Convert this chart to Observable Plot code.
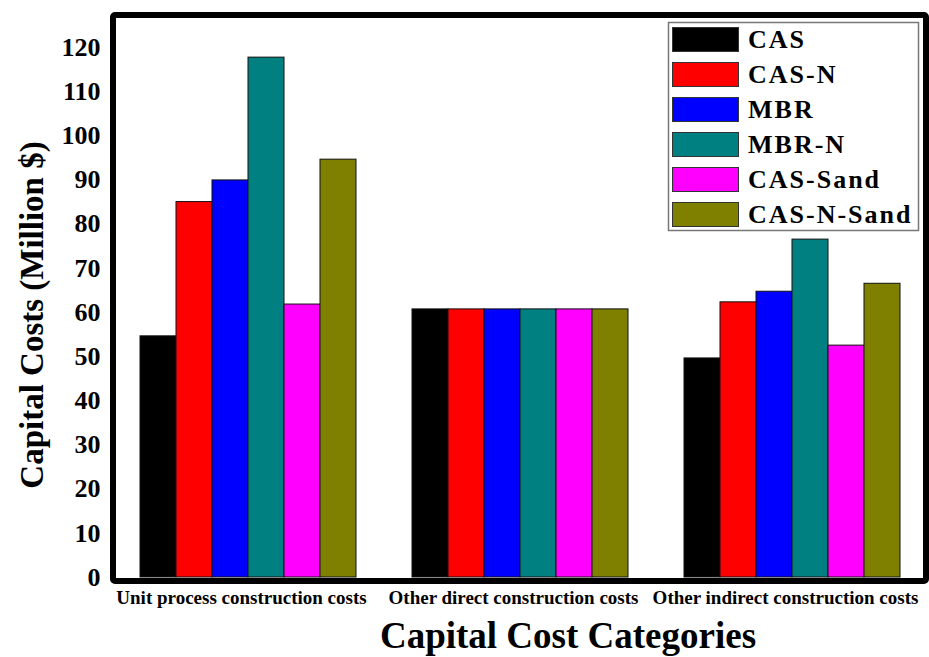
<!DOCTYPE html>
<html>
<head>
<meta charset="utf-8">
<script src="https://cdn.jsdelivr.net/npm/d3@7"></script>
<script src="https://cdn.jsdelivr.net/npm/@observablehq/plot@0.6"></script>
<style>
  html, body { margin: 0; padding: 0; background: #fff; }
  #chart svg { display: block; }
</style>
</head>
<body>
<div id="chart"></div>
<script>
// ---- data ----
const categories = ["Unit process construction costs", "Other direct construction costs", "Other indirect construction costs"];
const series = ["CAS", "CAS-N", "MBR", "MBR-N", "CAS-Sand", "CAS-N-Sand"];
const colors = ["#000000", "#ff0000", "#0000ff", "#008080", "#ff00ff", "#808000"];
const casValues       = [54.6, 60.7, 49.6];
const casNValues      = [85.0, 60.7, 62.3];
const mbrValues       = [89.9, 60.7, 64.7];
const mbrNValues      = [117.7, 60.7, 76.5];
const casSandValues   = [61.8, 60.7, 52.5];
const casNSandValues  = [94.6, 60.7, 66.5];
const yTicks = [0, 10, 20, 30, 40, 50, 60, 70, 80, 90, 100, 110, 120];
const yLabel = "Capital Costs (Million $)";
const xLabel = "Capital Cost Categories";

const valuesBySeries = [casValues, casNValues, mbrValues, mbrNValues, casSandValues, casNSandValues];
const data = [];
categories.forEach((c, ci) => {
  series.forEach((s, si) => {
    data.push({cat: c, series: s, value: valuesBySeries[si][ci]});
  });
});

const serif = "'Liberation Serif', 'Times New Roman', serif";

const plot = Plot.plot({
  width: 929,
  height: 657,
  marginLeft: 116,
  marginRight: 5,
  marginTop: 18,
  marginBottom: 80,
  style: {background: "#fff", fontFamily: serif},
  fx: {domain: categories, paddingInner: 0.1985, paddingOuter: 0.0843, label: null, axis: null},
  x: {domain: series, padding: 0, axis: null},
  y: {domain: [0, 126.56], axis: null},
  color: {domain: series, range: colors},
  marks: [
    Plot.barY(data, {fx: "cat", x: "series", y: "value", fill: "series", stroke: "#111", strokeWidth: 1}),
    Plot.axisY({ticks: yTicks, tickSize: 0, tickPadding: 39, fontSize: 26, fontWeight: "bold", fontFamily: serif, label: null, tickFormat: d => String(d), fill: "#000"}),
    Plot.axisFx({anchor: "bottom", tickSize: 0, tickPadding: 13, dx: -7, fontSize: 19, fontWeight: "bold", fontFamily: serif, label: null, fill: "#000"})
  ]
});

document.getElementById("chart").appendChild(plot);

// ---- frame, axis titles, legend ----
const svg = d3.select(plot);

svg.append("rect")
  .attr("x", 113).attr("y", 15).attr("width", 813).attr("height", 566)
  .attr("fill", "none").attr("stroke", "#000").attr("stroke-width", 6)
  .attr("rx", 2);

svg.append("text")
  .attr("transform", "translate(43,315) rotate(-90)")
  .attr("text-anchor", "middle")
  .attr("font-family", serif).attr("font-weight", "bold").attr("font-size", 33)
  .attr("fill", "#000")
  .text(yLabel);

svg.append("text")
  .attr("x", 568).attr("y", 648)
  .attr("text-anchor", "middle")
  .attr("font-family", serif).attr("font-weight", "bold").attr("font-size", 37)
  .attr("fill", "#000")
  .text(xLabel);

const lg = svg.append("g");
lg.append("rect")
  .attr("x", 668.5).attr("y", 22.5).attr("width", 250).attr("height", 208)
  .attr("fill", "#fff").attr("stroke", "#777").attr("stroke-width", 1.5);
series.forEach((s, i) => {
  const y0 = 27 + i * 35;
  lg.append("rect")
    .attr("x", 672.5).attr("y", y0 + 0.5).attr("width", 66).attr("height", 24)
    .attr("fill", colors[i]).attr("stroke", "#333").attr("stroke-width", 1);
  lg.append("text")
    .attr("x", 748).attr("y", y0 + 21)
    .attr("text-anchor", "start")
    .attr("font-family", serif).attr("font-weight", "bold").attr("font-size", 26)
    .attr("letter-spacing", 2)
    .attr("fill", "#000")
    .text(s);
});
</script>
</body>
</html>
